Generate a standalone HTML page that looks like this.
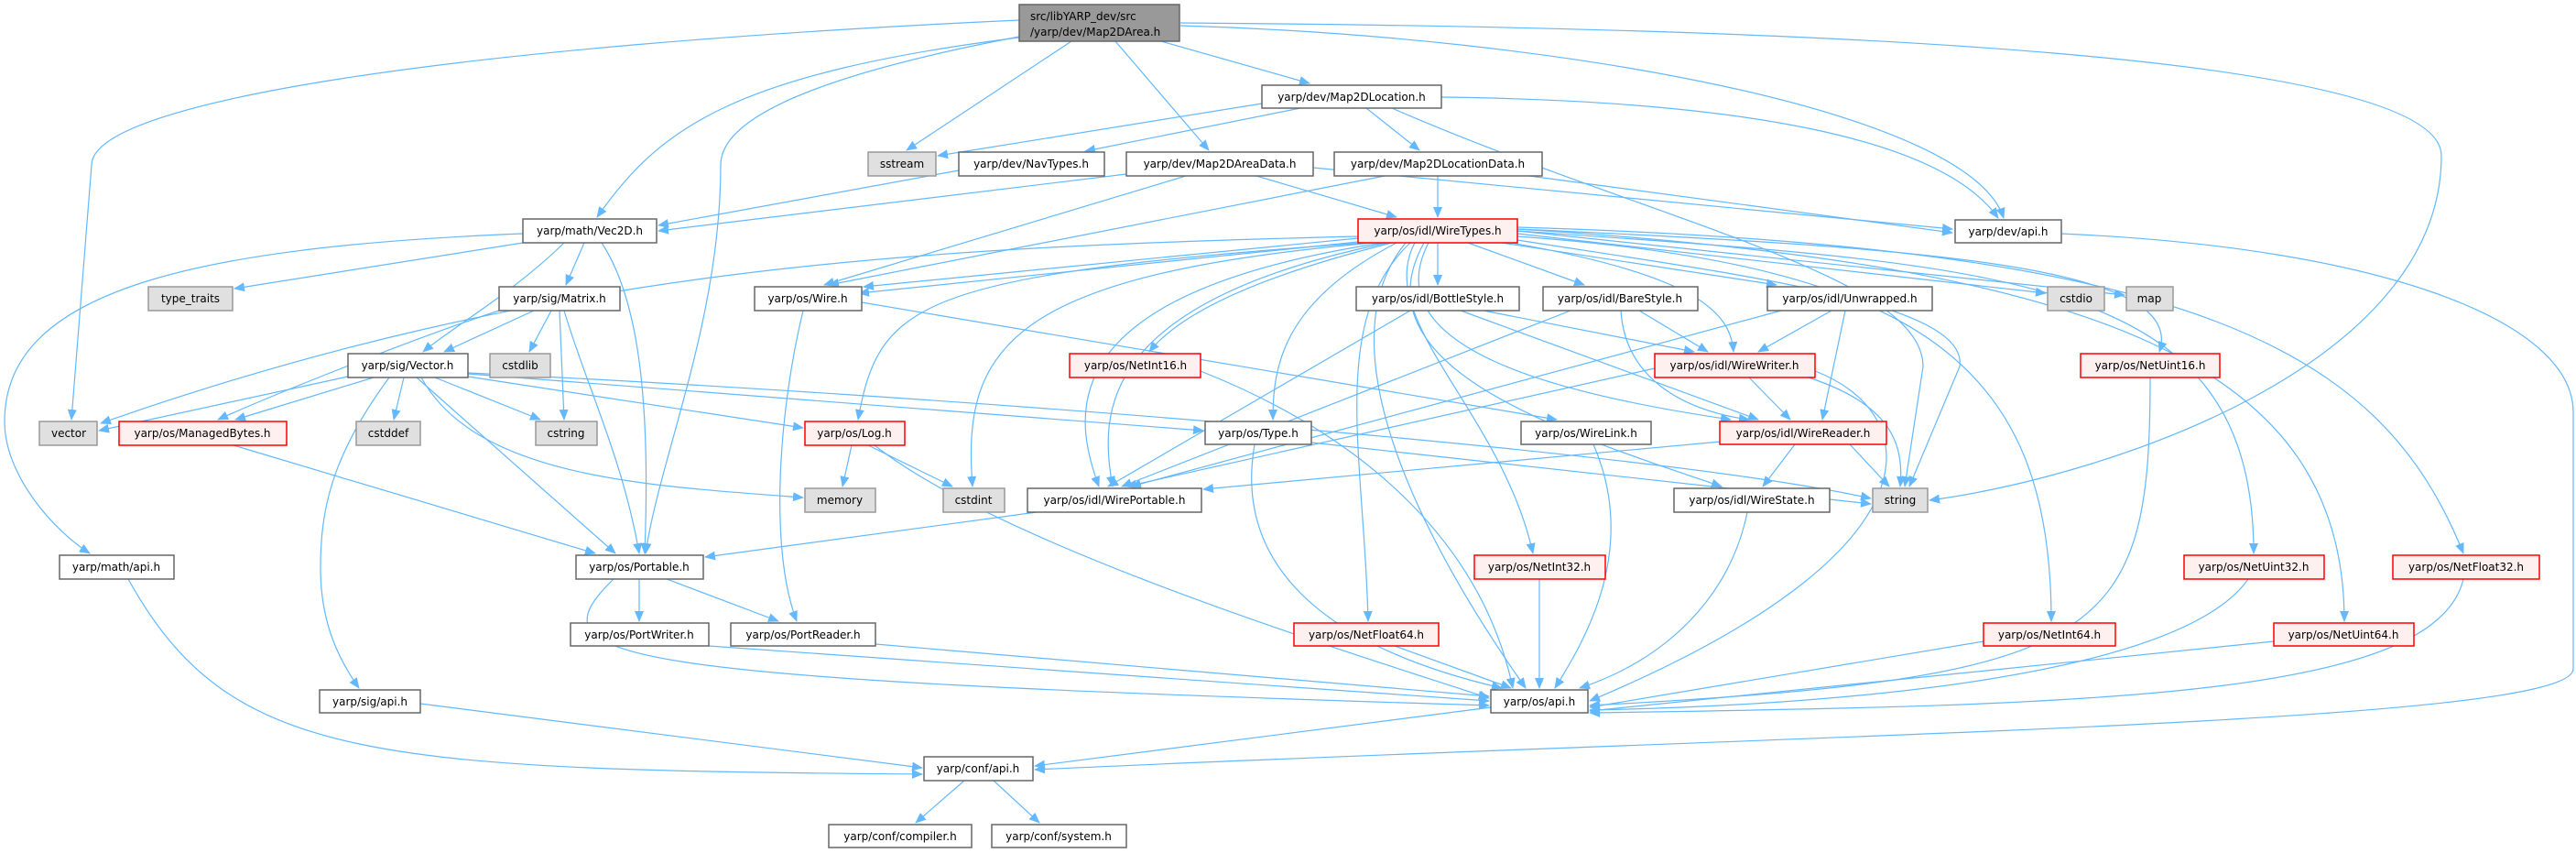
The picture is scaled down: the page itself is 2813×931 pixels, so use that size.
<!DOCTYPE html>
<html><head><meta charset="utf-8"><style>
html,body{margin:0;padding:0;background:#fff;}
svg{display:block;}
text{font-family:"DejaVu Sans","Liberation Sans",sans-serif;font-size:12px;fill:#000;}
.e{fill:none;stroke:#63b8ff;stroke-width:1.2;marker-end:url(#a);}
.n{fill:#fff;stroke:#666;stroke-width:1.5;}
.g{fill:#e0e0e0;stroke:#999;stroke-width:1.5;}
.r{fill:#fff0f0;stroke:#ff0000;stroke-width:1.5;}
</style></head><body>
<svg width="2813" height="931" viewBox="0 0 2813 931" xmlns="http://www.w3.org/2000/svg">
<defs><marker id="a" markerWidth="12" markerHeight="10" refX="11" refY="5" orient="auto" markerUnits="userSpaceOnUse"><path d="M0,0 L12,5 L0,10 z" fill="#63b8ff"/></marker></defs>
<g>
<path class="e" d="M1113,22 C500,50 100,110 100,180 L78,458"/>
<path class="e" d="M1120,40 C800,80 720,140 652,237"/>
<path class="e" d="M1113,40 C850,90 787,140 787,180 C787,350 720,500 705,604"/>
<path class="e" d="M1170,45 L990,164"/>
<path class="e" d="M1218,45 L1320,164"/>
<path class="e" d="M1268,45 L1430,91"/>
<path class="e" d="M1289,28 C1700,40 2150,120 2188,238"/>
<path class="e" d="M1289,25 C2000,30 2666,60 2666,170 C2666,400 2300,520 2107,546"/>
<path class="e" d="M1378,113 L1024,170"/>
<path class="e" d="M1420,118 L1185,165"/>
<path class="e" d="M1492,118 L1550,164"/>
<path class="e" d="M1574,106 C1900,110 2120,150 2182,238"/>
<path class="e" d="M1520,118 C1800,240 2100,300 2100,400 L2080,531"/>
<path class="e" d="M1047,186 L719,246"/>
<path class="e" d="M1230,190 L719,252"/>
<path class="e" d="M1295,192 L900,311"/>
<path class="e" d="M1372,192 L1525,237"/>
<path class="e" d="M1434,183 L2132,250"/>
<path class="e" d="M1570,192 L1570,237"/>
<path class="e" d="M1512,192 L905,311"/>
<path class="e" d="M1670,192 L2132,254"/>
<path class="e" d="M571,265 L256,315"/>
<path class="e" d="M638,265 L618,311"/>
<path class="e" d="M616,265 C560,320 490,360 462,384"/>
<path class="e" d="M657,265 C700,330 710,450 704,604"/>
<path class="e" d="M571,255 C200,270 5,320 5,460 C5,520 60,580 98,604"/>
<path class="e" d="M583,339 L485,384"/>
<path class="e" d="M602,339 L578,384"/>
<path class="e" d="M611,339 L616,458"/>
<path class="e" d="M616,339 C640,420 680,500 698,604"/>
<path class="e" d="M545,339 C450,370 300,430 238,458"/>
<path class="e" d="M380,411 L108,470"/>
<path class="e" d="M408,412 L257,458"/>
<path class="e" d="M441,412 L430,458"/>
<path class="e" d="M475,412 L590,458"/>
<path class="e" d="M460,412 C520,520 700,530 877,543"/>
<path class="e" d="M455,412 L672,604"/>
<path class="e" d="M425,412 C360,500 350,560 350,620 C350,680 370,720 392,751"/>
<path class="e" d="M511,411 L877,467"/>
<path class="e" d="M511,407 C1000,430 1800,490 2043,544"/>
<path class="e" d="M511,408 L1314,470"/>
<path class="e" d="M877,339 C850,450 840,600 870,678"/>
<path class="e" d="M941,330 L1700,458"/>
<path class="e" d="M1483,258 C1000,270 600,290 110,462"/>
<path class="e" d="M1483,260 L943,313"/>
<path class="e" d="M1483,264 L938,320"/>
<path class="e" d="M1490,265 C1000,300 960,330 937,458"/>
<path class="e" d="M1500,265 C1100,300 1050,380 1062,531"/>
<path class="e" d="M1510,265 C1150,320 1170,450 1200,531"/>
<path class="e" d="M1515,265 C1200,330 1200,450 1215,531"/>
<path class="e" d="M1520,265 C1380,300 1290,340 1255,384"/>
<path class="e" d="M1525,265 C1400,330 1390,400 1390,458"/>
<path class="e" d="M1540,265 C1450,350 1490,500 1494,678"/>
<path class="e" d="M1545,265 C1500,350 1640,450 1674,604"/>
<path class="e" d="M1535,265 C1440,380 1560,600 1666,751"/>
<path class="e" d="M1570,265 L1570,311"/>
<path class="e" d="M1603,265 L1730,311"/>
<path class="e" d="M1640,265 L1940,311"/>
<path class="e" d="M1650,265 C1850,300 1890,340 1893,384"/>
<path class="e" d="M1560,265 C1500,380 1700,430 1890,458"/>
<path class="e" d="M1555,265 C1480,400 1700,470 1880,531"/>
<path class="e" d="M1657,262 C1900,300 2150,330 2140,400 L2085,531"/>
<path class="e" d="M1657,255 L2234,320"/>
<path class="e" d="M1657,252 L2320,322"/>
<path class="e" d="M1657,250 C2100,270 2390,290 2358,384"/>
<path class="e" d="M1657,258 C2100,290 2240,400 2240,678"/>
<path class="e" d="M1657,252 C2200,290 2461,300 2461,604"/>
<path class="e" d="M1657,250 C2300,290 2560,400 2560,678"/>
<path class="e" d="M1657,248 C2400,270 2600,380 2690,604"/>
<path class="e" d="M930,486 L920,531"/>
<path class="e" d="M948,486 L1040,531"/>
<path class="e" d="M955,486 C1100,600 1500,720 1626,762"/>
<path class="e" d="M255,486 L650,604"/>
<path class="e" d="M698,632 L698,678"/>
<path class="e" d="M728,632 L850,678"/>
<path class="e" d="M670,632 C580,720 650,740 1626,770"/>
<path class="e" d="M774,705 L1626,765"/>
<path class="e" d="M956,703 L1626,760"/>
<path class="e" d="M1132,559 L770,608"/>
<path class="e" d="M1370,485 C1350,600 1420,700 1640,751"/>
<path class="e" d="M1432,483 L2043,550"/>
<path class="e" d="M1740,485 C1790,600 1730,700 1698,751"/>
<path class="e" d="M1311,405 C1500,480 1620,600 1652,751"/>
<path class="e" d="M1523,705 L1650,751"/>
<path class="e" d="M1681,632 L1681,751"/>
<path class="e" d="M1908,559 C1890,650 1820,720 1725,751"/>
<path class="e" d="M1960,485 L1925,531"/>
<path class="e" d="M2020,485 L2063,531"/>
<path class="e" d="M1879,482 L1314,534"/>
<path class="e" d="M1910,412 L1955,458"/>
<path class="e" d="M1975,412 C2060,440 2080,480 2075,531"/>
<path class="e" d="M1982,405 C2100,450 2130,600 1736,765"/>
<path class="e" d="M1807,402 L1230,531"/>
<path class="e" d="M1620,339 L1850,384"/>
<path class="e" d="M1595,339 L1920,458"/>
<path class="e" d="M1540,339 L1210,531"/>
<path class="e" d="M1790,339 L1865,384"/>
<path class="e" d="M1770,339 C1775,420 1850,450 1910,458"/>
<path class="e" d="M1715,339 L1225,531"/>
<path class="e" d="M2000,339 L1920,384"/>
<path class="e" d="M2015,339 L1990,458"/>
<path class="e" d="M1945,339 L1235,531"/>
<path class="e" d="M2348,412 C2348,700 2300,740 1736,770"/>
<path class="e" d="M2166,700 L1736,772"/>
<path class="e" d="M2455,632 C2380,740 2000,770 1736,775"/>
<path class="e" d="M2483,700 L1736,776"/>
<path class="e" d="M2690,632 C2660,760 2300,770 1736,778"/>
<path class="e" d="M2250,255 C2600,270 2810,350 2810,450 L2810,730 C2810,790 2000,800 1130,840"/>
<path class="e" d="M1628,772 L1130,836"/>
<path class="e" d="M140,632 C250,830 400,840 1007,845"/>
<path class="e" d="M459,768 L1007,838"/>
<path class="e" d="M1053,852 L1000,898"/>
<path class="e" d="M1085,852 L1135,898"/>
</g>
<g>
<rect x="1113" y="5" width="175" height="40" fill="#999" stroke="#666" stroke-width="1.5"/>
<text x="1125" y="22">src/libYARP_dev/src</text>
<text x="1125" y="39">/yarp/dev/Map2DArea.h</text>
</g>
<g text-anchor="middle">
<rect class="n" x="1378" y="93" width="196" height="25"/><text x="1476" y="110">yarp/dev/Map2DLocation.h</text>
<rect class="g" x="948" y="166" width="74" height="26"/><text x="985" y="183">sstream</text>
<rect class="n" x="1047" y="166" width="159" height="26"/><text x="1126" y="183">yarp/dev/NavTypes.h</text>
<rect class="n" x="1230" y="166" width="204" height="26"/><text x="1332" y="183">yarp/dev/Map2DAreaData.h</text>
<rect class="n" x="1457" y="166" width="227" height="26"/><text x="1570" y="183">yarp/dev/Map2DLocationData.h</text>
<rect class="n" x="2135" y="240" width="116" height="25"/><text x="2193" y="257">yarp/dev/api.h</text>
<rect class="n" x="571" y="239" width="146" height="26"/><text x="644" y="256">yarp/math/Vec2D.h</text>
<rect class="r" x="1483" y="239" width="174" height="26"/><text x="1570" y="256">yarp/os/idl/WireTypes.h</text>
<rect class="g" x="162" y="313" width="92" height="26"/><text x="208" y="330">type_traits</text>
<rect class="n" x="545" y="313" width="132" height="26"/><text x="611" y="330">yarp/sig/Matrix.h</text>
<rect class="n" x="824" y="313" width="117" height="26"/><text x="882" y="330">yarp/os/Wire.h</text>
<rect class="n" x="1481" y="313" width="178" height="26"/><text x="1570" y="330">yarp/os/idl/BottleStyle.h</text>
<rect class="n" x="1685" y="313" width="169" height="26"/><text x="1769" y="330">yarp/os/idl/BareStyle.h</text>
<rect class="n" x="1930" y="313" width="180" height="26"/><text x="2020" y="330">yarp/os/idl/Unwrapped.h</text>
<rect class="g" x="2236" y="313" width="62" height="26"/><text x="2267" y="330">cstdio</text>
<rect class="g" x="2322" y="313" width="51" height="26"/><text x="2347" y="330">map</text>
<rect class="n" x="380" y="386" width="131" height="26"/><text x="445" y="403">yarp/sig/Vector.h</text>
<rect class="g" x="535" y="386" width="66" height="26"/><text x="568" y="403">cstdlib</text>
<rect class="r" x="1168" y="386" width="143" height="26"/><text x="1240" y="403">yarp/os/NetInt16.h</text>
<rect class="r" x="1807" y="386" width="175" height="26"/><text x="1894" y="403">yarp/os/idl/WireWriter.h</text>
<rect class="r" x="2272" y="386" width="152" height="26"/><text x="2348" y="403">yarp/os/NetUint16.h</text>
<rect class="g" x="43" y="460" width="63" height="26"/><text x="75" y="477">vector</text>
<rect class="r" x="130" y="460" width="183" height="26"/><text x="221" y="477">yarp/os/ManagedBytes.h</text>
<rect class="g" x="389" y="460" width="70" height="26"/><text x="424" y="477">cstddef</text>
<rect class="g" x="585" y="460" width="67" height="26"/><text x="618" y="477">cstring</text>
<rect class="r" x="879" y="460" width="109" height="26"/><text x="933" y="477">yarp/os/Log.h</text>
<rect class="n" x="1316" y="460" width="116" height="25"/><text x="1374" y="477">yarp/os/Type.h</text>
<rect class="n" x="1661" y="460" width="142" height="25"/><text x="1732" y="477">yarp/os/WireLink.h</text>
<rect class="r" x="1878" y="460" width="182" height="25"/><text x="1969" y="477">yarp/os/idl/WireReader.h</text>
<rect class="g" x="879" y="533" width="77" height="26"/><text x="917" y="550">memory</text>
<rect class="g" x="1030" y="533" width="67" height="26"/><text x="1063" y="550">cstdint</text>
<rect class="n" x="1122" y="533" width="190" height="26"/><text x="1217" y="550">yarp/os/idl/WirePortable.h</text>
<rect class="n" x="1828" y="533" width="170" height="26"/><text x="1913" y="550">yarp/os/idl/WireState.h</text>
<rect class="g" x="2045" y="533" width="60" height="26"/><text x="2075" y="550">string</text>
<rect class="n" x="65" y="606" width="125" height="26"/><text x="127" y="623">yarp/math/api.h</text>
<rect class="n" x="629" y="606" width="139" height="26"/><text x="698" y="623">yarp/os/Portable.h</text>
<rect class="r" x="1610" y="606" width="143" height="26"/><text x="1681" y="623">yarp/os/NetInt32.h</text>
<rect class="r" x="2385" y="606" width="153" height="26"/><text x="2461" y="623">yarp/os/NetUint32.h</text>
<rect class="r" x="2613" y="606" width="160" height="26"/><text x="2693" y="623">yarp/os/NetFloat32.h</text>
<rect class="n" x="623" y="680" width="151" height="25"/><text x="698" y="697">yarp/os/PortWriter.h</text>
<rect class="n" x="798" y="680" width="158" height="25"/><text x="877" y="697">yarp/os/PortReader.h</text>
<rect class="r" x="1413" y="680" width="158" height="25"/><text x="1492" y="697">yarp/os/NetFloat64.h</text>
<rect class="r" x="2166" y="680" width="144" height="25"/><text x="2238" y="697">yarp/os/NetInt64.h</text>
<rect class="r" x="2483" y="680" width="153" height="25"/><text x="2559" y="697">yarp/os/NetUint64.h</text>
<rect class="n" x="349" y="753" width="110" height="25"/><text x="404" y="770">yarp/sig/api.h</text>
<rect class="n" x="1628" y="753" width="106" height="25"/><text x="1681" y="770">yarp/os/api.h</text>
<rect class="n" x="1009" y="826" width="119" height="26"/><text x="1068" y="843">yarp/conf/api.h</text>
<rect class="n" x="905" y="900" width="156" height="25"/><text x="983" y="917">yarp/conf/compiler.h</text>
<rect class="n" x="1083" y="900" width="147" height="25"/><text x="1156" y="917">yarp/conf/system.h</text>
</g>
</svg>
</body></html>
